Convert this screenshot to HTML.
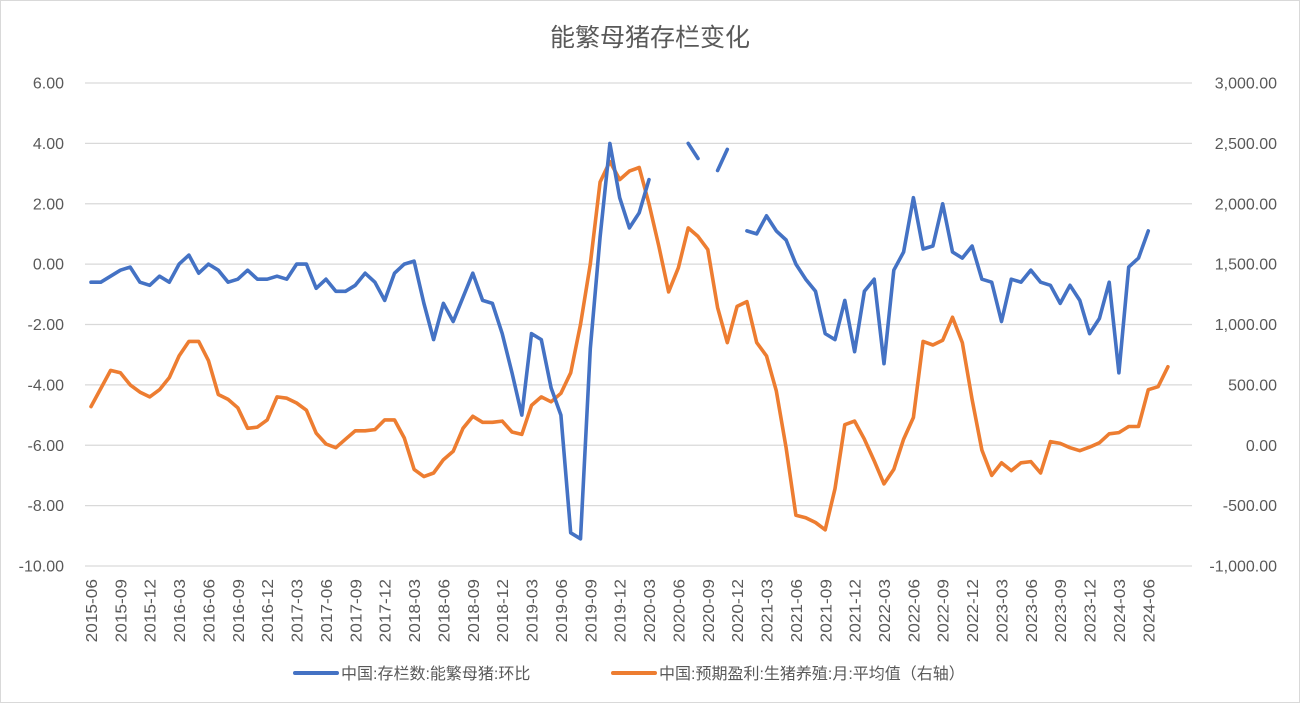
<!DOCTYPE html>
<html><head><meta charset="utf-8"><style>
body{margin:0;background:#fff;}
#c{position:relative;width:1301px;height:704px;overflow:hidden;background:#fff;}
svg text{font-family:"Liberation Sans","Noto Sans CJK SC",sans-serif;}
</style></head><body>
<div id="c">
<svg id="s" width="1301" height="704" xmlns="http://www.w3.org/2000/svg">
<rect x="0.5" y="0.5" width="1299" height="702" fill="#fff" stroke="#d9d9d9"/>
<text x="650" y="46" font-size="25" fill="#595959" text-anchor="middle">能繁母猪存栏变化</text>
<g id="grid"></g><g id="ticks"></g><g id="series"></g>
<g>
<line x1="295" y1="673" x2="337" y2="673" stroke="#4472C4" stroke-width="4" stroke-linecap="round"/>
<text x="341" y="679" font-size="16" fill="#595959">中国:存栏数:能繁母猪:环比</text>
<line x1="613" y1="673" x2="655" y2="673" stroke="#ED7D31" stroke-width="4" stroke-linecap="round"/>
<text x="659" y="679" font-size="16" fill="#595959">中国:预期盈利:生猪养殖:月:平均值（右轴）</text>
</g>
</svg></div>
<script>
const startYear=2015, startMonth=6;
const leftTicks=[6,4,2,0,-2,-4,-6,-8,-10];
const rightTicks=[3000,2500,2000,1500,1000,500,0,-500,-1000];
const sowMoM=[-0.6,-0.6,-0.4,-0.2,-0.1,-0.6,-0.7,
-0.4,-0.6,0.0,0.3,-0.3,0.0,-0.2,-0.6,-0.5,-0.2,-0.5,-0.5,
-0.4,-0.5,0.0,0.0,-0.8,-0.5,-0.9,-0.9,-0.7,-0.3,-0.6,-1.2,
-0.3,0.0,0.1,-1.3,-2.5,-1.3,-1.9,-1.1,-0.3,-1.2,-1.3,-2.3,
-3.6,-5.0,-2.3,-2.5,-4.1,-5.0,-8.9,-9.1,-2.8,0.9,4.0,2.2,
1.2,1.7,2.8,null,null,null,4.0,3.5,null,3.1,3.8,null,
1.1,1.0,1.6,1.1,0.8,0.0,-0.5,-0.9,-2.3,-2.5,-1.2,-2.9,
-0.9,-0.5,-3.3,-0.2,0.4,2.2,0.5,0.6,2.0,0.4,0.2,0.6,
-0.5,-0.6,-1.9,-0.5,-0.6,-0.2,-0.6,-0.7,-1.3,-0.7,-1.2,-2.3,
-1.8,-0.6,-3.6,-0.1,0.2,1.1];
const profit=[320,470,620,600,500,440,400,
460,560,740,860,860,700,420,380,310,140,150,210,
400,390,350,290,100,10,-20,50,120,120,130,210,
210,60,-200,-260,-230,-120,-50,140,240,190,190,200,
110,90,330,400,360,430,600,1000,1500,2180,2350,2200,
2270,2300,2000,1650,1270,1470,1800,1730,1620,1140,850,1150,
1190,850,740,450,-20,-580,-600,-640,-700,-360,170,200,
50,-130,-320,-200,50,230,860,830,870,1060,850,380,
-40,-250,-145,-210,-145,-135,-230,30,15,-20,-45,-15,
20,95,105,155,155,460,485,650];

const NS="http://www.w3.org/2000/svg";
const x0=85,x1=1192,yTop=83,yBot=566;
const xs=i=>91+i*9.79;
const yL=v=>yTop+(6-v)/16*(yBot-yTop);
const yR=v=>yTop+(3000-v)/4000*(yBot-yTop);
function mk(tag,attrs,parent){const e=document.createElementNS(NS,tag);for(const k in attrs)e.setAttribute(k,attrs[k]);parent.appendChild(e);return e;}
const grid=document.getElementById('grid'),ticks=document.getElementById('ticks'),ser=document.getElementById('series');
leftTicks.forEach(v=>{
  const l=mk('line',{x1:x0,x2:x1,y1:yL(v),y2:yL(v),stroke:'#d9d9d9','stroke-width':1.3},grid);
  
  
  const t=mk('text',{x:64,y:yL(v)+5.5,'font-size':16,fill:'#595959','text-anchor':'end'},ticks);
  t.textContent=v.toFixed(2);
  
  
});
rightTicks.forEach(v=>{
  const t=mk('text',{x:1277,y:yR(v)+5.5,'font-size':16,fill:'#595959','text-anchor':'end'},ticks);
  t.textContent=v.toLocaleString('en-US',{minimumFractionDigits:2,maximumFractionDigits:2});
  
  
});
for(let i=0;i<profit.length;i+=3){
  const m=startMonth-1+i, yr=startYear+Math.floor(m/12), mo=m%12+1;
  const lab=yr+'-'+String(mo).padStart(2,'0');
  const t=mk('text',{x:0,y:0,'font-size':16,fill:'#595959','text-anchor':'end',transform:`translate(${xs(i)+6},579) rotate(-90) scale(1.08,1)`},ticks);
  t.textContent=lab;
  
  
}
function line(data,yf,color,name){
  let d='',pen=false;
  data.forEach((v,i)=>{
    if(v===null){pen=false;return;}
    d+=(pen?'L':'M')+xs(i).toFixed(1)+' '+yf(v).toFixed(1)+' ';pen=true;
  });
  const p=mk('path',{d:d,fill:'none',stroke:color,'stroke-width':3.6,'stroke-linejoin':'round','stroke-linecap':'round'},ser);
  
  
}
line(profit,yR,'#ED7D31','profit-line');
line(sowMoM,yL,'#4472C4','sow-mom-line');
</script>
</body></html>
